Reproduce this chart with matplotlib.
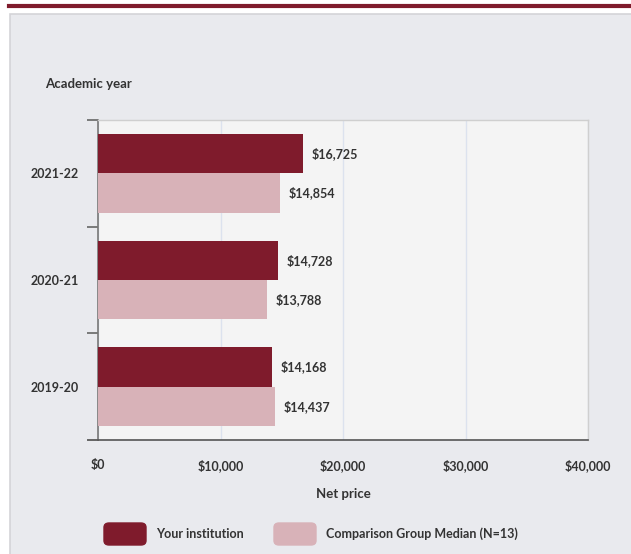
import matplotlib
matplotlib.use("Agg")
import matplotlib.pyplot as plt
from matplotlib.patches import Rectangle, FancyBboxPatch
from matplotlib.lines import Line2D
from matplotlib.ticker import FuncFormatter

years = ["2021-22", "2020-21", "2019-20"]
your_institution = [16725, 14728, 14168]
comparison_median = [14854, 13788, 14437]
series_names = ["Your institution", "Comparison Group Median (N=13)"]
x_ticks = [0, 10000, 20000, 30000, 40000]

dark = "#7f1b2c"
light = "#d8b2b8"
txt = "#333333"
W, H = 631, 554

plt.rcParams['font.family'] = ['Lato', 'DejaVu Sans']

fig = plt.figure(figsize=(W / 100, H / 100), dpi=100)
fig.patch.set_facecolor("white")

# background panel and top rule
fig.patches.append(Rectangle((10 / W, -0.01), 1, 1.01 - 14 / H, transform=fig.transFigure,
                             facecolor="#e9eaee", edgecolor="#d4d4d8", lw=1.2, zorder=-10))
fig.add_artist(Line2D([9 / W, 1], [1 - 5.5 / H, 1 - 5.5 / H], transform=fig.transFigure,
                      color=dark, lw=3))

ax = fig.add_axes([98 / W, 1 - 440 / H, 490 / W, 320 / H])
ax.set_zorder(2)
ax.set_facecolor("#f4f4f4")

pos = list(range(len(years)))[::-1]
h = 0.37
ax.barh([p + h / 2 for p in pos], your_institution, height=h, color=dark, zorder=3)
ax.barh([p - h / 2 for p in pos], comparison_median, height=h, color=light, zorder=3)

for p, v in zip(pos, your_institution):
    ax.text(v + 700, p + h / 2, "${:,}".format(v), va="center", ha="left",
            fontsize=9, fontweight="bold", color=txt)
for p, v in zip(pos, comparison_median):
    ax.text(v + 700, p - h / 2, "${:,}".format(v), va="center", ha="left",
            fontsize=9, fontweight="bold", color=txt)

ax.set_xlim(0, 40000)
ax.set_ylim(-0.5, len(years) - 0.5)
ax.set_xticks(x_ticks)
ax.xaxis.set_major_formatter(FuncFormatter(lambda v, _: "${:,.0f}".format(v)))
ax.tick_params(axis="x", length=0, pad=14, labelsize=9, labelcolor=txt)
for lab in ax.get_xticklabels():
    lab.set_fontweight("bold")
ax.grid(axis="x", color="#dce2ee", lw=1, zorder=1)

ax.set_yticks([i - 0.5 for i in range(len(years) + 1)])
ax.set_yticklabels([])
ax.set_yticks(pos, minor=True)
ax.set_yticklabels(years, minor=True)
ax.tick_params(axis="y", which="major", length=8, width=1.2, color="#666666")
ax.tick_params(axis="y", which="minor", length=0, pad=14, labelsize=9, labelcolor=txt)
for lab in ax.get_yticklabels(minor=True):
    lab.set_fontweight("bold")

for s in ["top", "right"]:
    ax.spines[s].set_color("#cfcfcf")
    ax.spines[s].set_linewidth(1)
ax.spines["left"].set_color("#777777")
ax.spines["left"].set_linewidth(1.2)
ax.spines["bottom"].set_color("#555555")
ax.spines["bottom"].set_linewidth(1.2)
fig.add_artist(Line2D([88 / W, 98 / W], [1 - 440 / H, 1 - 440 / H], transform=fig.transFigure,
                      color="#555555", lw=1.2))

fig.text(45 / W, 1 - 84 / H, "Academic year", ha="left", va="center", fontsize=9.5,
         fontweight="bold", color=txt)
fig.text(343 / W, 1 - 494 / H, "Net price", ha="center", va="center", fontsize=9.5,
         fontweight="bold", color=txt)

# legend
legend_items = [(104, 156, dark, series_names[0]), (274, 326, light, series_names[1])]
for x0, tx, c, name in legend_items:
    fig.patches.append(FancyBboxPatch((x0 / W, 1 - 545 / H), 42 / W, 22 / H,
                                      boxstyle="round,pad=0,rounding_size=0.008",
                                      transform=fig.transFigure, facecolor=c, edgecolor=c,
                                      lw=1))
    fig.text(tx / W, 1 - 534 / H, name, ha="left", va="center", fontsize=9,
             fontweight="bold", color=txt)

fig.savefig("out.png", dpi=100)
